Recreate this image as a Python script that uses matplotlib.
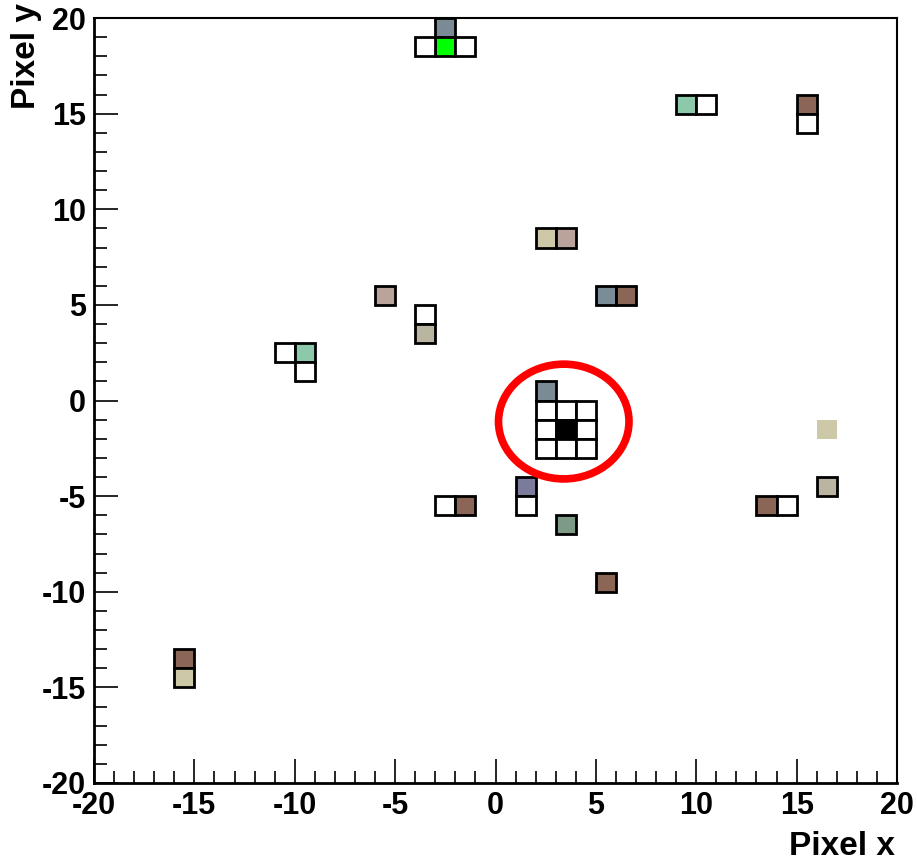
import matplotlib
matplotlib.use("Agg")
import matplotlib.pyplot as plt
from matplotlib.patches import Rectangle, Ellipse
from matplotlib.ticker import MultipleLocator

plt.rcParams['font.family'] = ['Liberation Sans', 'DejaVu Sans']
plt.rcParams['font.weight'] = 'bold'
plt.rcParams['axes.unicode_minus'] = False

# pixel cells: lower-left corner (x, y), fill colour, drawn with border or not
cell_x = [-3, -3, -4, -2,
          2, 2, 3, 4, 2, 3, 4, 2, 3, 4,
          -11, -10, -10, -6, -4, -4,
          9, 10, 15, 15,
          -3, -2, 1, 1, 3, 5,
          16, 16, 13, 14,
          -16, -16,
          2, 3, 5, 6]
cell_y = [19, 18, 18, 18,
          0, -1, -1, -1, -2, -2, -2, -3, -3, -3,
          2, 2, 1, 5, 4, 3,
          15, 15, 15, 14,
          -6, -6, -5, -6, -7, -10,
          -2, -5, -6, -6,
          -14, -15,
          8, 8, 5, 5]
cell_color = ['#7a8b95', '#00ff00', '#ffffff', '#ffffff',
              '#7a8b95', '#ffffff', '#ffffff', '#ffffff', '#ffffff', '#000000', '#ffffff',
              '#ffffff', '#ffffff', '#ffffff',
              '#ffffff', '#8cc8aa', '#ffffff', '#b9a39b', '#ffffff', '#bab5a1',
              '#8cc8aa', '#ffffff', '#8b6656', '#ffffff',
              '#ffffff', '#8b6656', '#7b7b9c', '#ffffff', '#7d9a86', '#8b6656',
              '#cdc8a8', '#bab5a1', '#8b6656', '#ffffff',
              '#8b6656', '#cdc9a8',
              '#cdc8a8', '#b9a39b', '#7a8c98', '#8b6656']
cell_edge = [True] * len(cell_x)
cell_edge[30] = False

# marker ellipse around the cluster
circle_center = (3.4, -1.1)
circle_w, circle_h = 6.5, 6.0

fig = plt.figure(figsize=(9.17, 8.64), dpi=100)
ax = fig.add_axes([94 / 917, 81 / 864, 803 / 917, 765 / 864])

for x, y, c, e in zip(cell_x, cell_y, cell_color, cell_edge):
    if e:
        ax.add_patch(Rectangle((x, y), 1, 1, facecolor=c, edgecolor='black', linewidth=2, zorder=2))
    else:
        ax.add_patch(Rectangle((x, y), 1, 1, facecolor=c, edgecolor='none', zorder=2))

ax.add_patch(Ellipse(circle_center, circle_w, circle_h, fill=False, edgecolor='#ff0000', linewidth=5.5, zorder=3))

ax.set_xlim(-20, 20)
ax.set_ylim(-20, 20)
ax.xaxis.set_major_locator(MultipleLocator(5))
ax.xaxis.set_minor_locator(MultipleLocator(1))
ax.yaxis.set_major_locator(MultipleLocator(5))
ax.yaxis.set_minor_locator(MultipleLocator(1))
ax.tick_params(which='both', direction='in', top=False, right=False, width=1.2, labelsize=22, pad=6)
ax.tick_params(which='major', length=17)
ax.tick_params(which='minor', length=9)
for s in ax.spines.values():
    s.set_linewidth(1.5)
ax.spines['bottom'].set_linewidth(2)
ax.spines['left'].set_linewidth(2)
for lab in ax.get_xticklabels() + ax.get_yticklabels():
    lab.set_fontweight('bold')

fig.text(895 / 917, 1 - 855 / 864, 'Pixel x', ha='right', va='baseline', fontsize=24, fontweight='bold')
fig.text(27 / 917, 1 - 3 / 864, 'Pixel y', ha='center', va='top', rotation=90, fontsize=24, fontweight='bold')

fig.savefig('out.png', dpi=100)
